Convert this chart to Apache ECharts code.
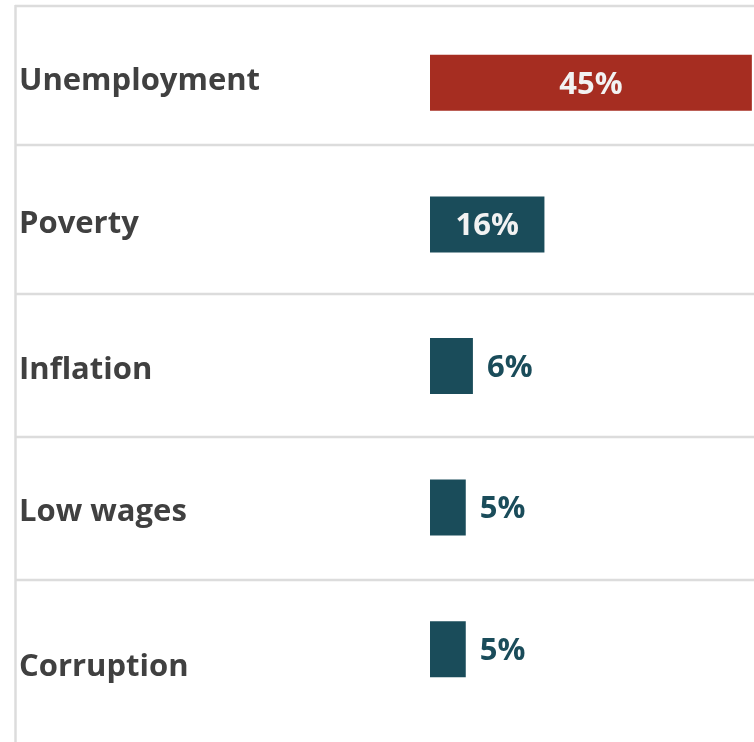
<!DOCTYPE html>
<html>
<head>
<meta charset="utf-8">
<style>
  html, body { margin: 0; padding: 0; background: #ffffff; }
  #chart { width: 754px; height: 742px; }
</style>
<script src="https://cdn.jsdelivr.net/npm/echarts@6/dist/echarts.min.js"></script>
</head>
<body>
<div id="chart"></div>
<script>
// ---- data ----
const categories = ['Unemployment', 'Poverty', 'Inflation', 'Low wages', 'Corruption'];
const values = [45, 16, 6, 5, 5];
const highlight = ['Unemployment'];

// ---- style ----
const RED = '#a62d21';
const TEAL = '#1a4c5a';
const TEXT = '#404040';
const RULE = '#dcdcdc';
const FONT = 'Open Sans';
const labelNudge = [-2, 0, 4, 5, 18]; // vertical nudge of category labels (px)

const chart = echarts.init(document.getElementById('chart'));

const rich = {};
labelNudge.forEach((d, i) => {
  rich['c' + i] = {
    fontFamily: FONT, fontWeight: 'bold', fontSize: 31, color: TEXT,
    padding: d >= 0 ? [2 * d, 0, 0, 0] : [0, 0, -2 * d, 0]
  };
});

const ruleYs = [6, 145, 294, 437, 580];
const graphic = ruleYs.map(y => ({
  type: 'line', silent: true,
  shape: { x1: 15, y1: y, x2: 754, y2: y },
  style: { stroke: RULE, lineWidth: 2.5 }
}));
graphic.push({
  type: 'line', silent: true,
  shape: { x1: 15.5, y1: 5, x2: 15.5, y2: 742 },
  style: { stroke: RULE, lineWidth: 2.5 }
});

const option = {
  animation: false,
  backgroundColor: '#ffffff',
  graphic: graphic,
  grid: { left: 430, right: 0, top: 12, bottom: 22, containLabel: false },
  xAxis: {
    type: 'value', min: 0, max: 45.3, show: false
  },
  yAxis: {
    type: 'category', inverse: true, data: categories,
    axisLine: { show: false }, axisTick: { show: false }, splitLine: { show: false },
    axisLabel: {
      margin: 411, align: 'left',
      formatter: (v, i) => '{c' + i + '|' + v + '}',
      rich: rich
    }
  },
  series: [{
    type: 'bar',
    barWidth: 56,
    data: values.map((v, i) => {
      const hi = highlight.includes(categories[i]);
      const inside = v >= 10;
      return {
        value: v,
        itemStyle: { color: hi ? RED : TEAL },
        label: {
          show: true,
          position: inside ? 'inside' : 'right',
          distance: 14,
          offset: [0, 2],
          formatter: '{c}%',
          color: inside ? '#f2f2f2' : TEAL,
          fontFamily: FONT, fontWeight: 'bold', fontSize: 31
        }
      };
    })
  }]
};
chart.setOption(option);
</script>
</body>
</html>
